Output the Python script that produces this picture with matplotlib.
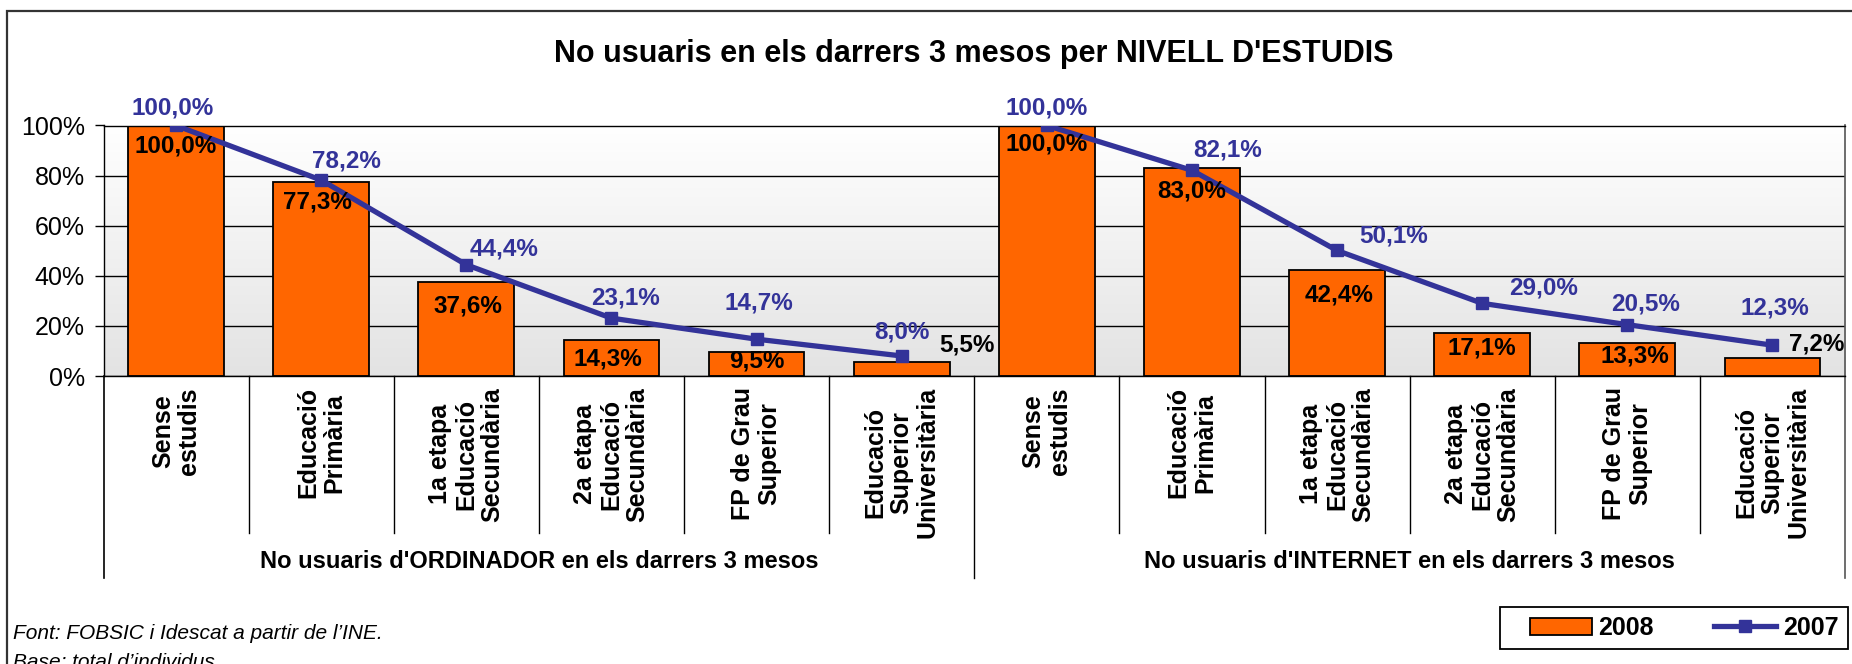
#!/usr/bin/env python3
"""No usuaris en els darrers 3 mesos per nivell d'estudis (2008 bars, 2007 line)."""

import matplotlib
matplotlib.use("Agg")
import matplotlib.pyplot as plt
import matplotlib.patches as mpatches
from matplotlib.lines import Line2D
from matplotlib.ticker import FuncFormatter
import numpy as np

plt.rcParams["font.family"] = ["Liberation Sans", "DejaVu Sans"]

# ── data ─────────────────────────────────────────────────────────────────────

CATEGORIES = [
    "Sense\nestudis",
    "Educació\nPrimària",
    "1a etapa\nEducació\nSecundària",
    "2a etapa\nEducació\nSecundària",
    "FP de Grau\nSuperior",
    "Educació\nSuperior\nUniversitària",
]
GROUPS = [
    "No usuaris d'ORDINADOR en els darrers 3 mesos",
    "No usuaris d'INTERNET en els darrers 3 mesos",
]
ORDINADOR_2008 = [100.0, 77.3, 37.6, 14.3, 9.5, 5.5]
ORDINADOR_2007 = [100.0, 78.2, 44.4, 23.1, 14.7, 8.0]
INTERNET_2008 = [100.0, 83.0, 42.4, 17.1, 13.3, 7.2]
INTERNET_2007 = [100.0, 82.1, 50.1, 29.0, 20.5, 12.3]
YTICKS = [0, 20, 40, 60, 80, 100]

TITLE = "No usuaris en els darrers 3 mesos per NIVELL D'ESTUDIS"
SOURCE = "Font: FOBSIC i Idescat a partir de l’INE."
BASE = "Base: total d’individus"

ORANGE = "#FF6600"
BLUE = "#333399"

# label nudges in pixels (dx, dy up), as placed in the original sheet
BAR_LABEL_OFFSETS = [(0, -20), (-4, -20), (2, -24), (-4, -19), (0, -9), (65, 17),
                     (0, -19), (0, -23), (2, -25), (0, -15), (8, -13), (44, 14)]
LINE_LABEL_OFFSETS = [(-3, 17), (25, 19), (38, 16), (14, 20), (2, 36), (0, 24),
                      (0, 18), (36, 20), (57, 14), (61, 15), (18, 21), (2, 37)]


def pct(v: float) -> str:
    return f"{v:.1f}%".replace(".", ",")


def main() -> None:
    W, H = 1852, 664
    fig = plt.figure(figsize=(W / 100, H / 100), dpi=100)

    left, right = 103.5 / W, 1845 / W
    top, bottom = 1 - 125.5 / H, 1 - 376 / H
    ax = fig.add_axes([left, bottom, right - left, top - bottom])

    vals_2008 = ORDINADOR_2008 + INTERNET_2008
    vals_2007 = ORDINADOR_2007 + INTERNET_2007
    n = len(vals_2008)
    x = np.arange(n)

    # ── background gradient ──────────────────────────────────────────────────
    grad = np.linspace(0.89, 1.0, 256).reshape(-1, 1, 1) * np.ones((1, 1, 3))
    ax.imshow(grad, extent=[-0.5, n - 0.5, 0, 100], aspect="auto",
              origin="lower", zorder=0, interpolation="bilinear")

    # ── bars + line ──────────────────────────────────────────────────────────
    ax.bar(x, vals_2008, width=0.66, color=ORANGE, edgecolor="black",
           linewidth=1.3, zorder=2)
    ax.plot(x[:6], vals_2007[:6], color=BLUE, lw=3.8, marker="s", ms=8.5,
            zorder=3, solid_capstyle="butt")
    ax.plot(x[6:], vals_2007[6:], color=BLUE, lw=3.8, marker="s", ms=8.5,
            zorder=3, solid_capstyle="butt")

    for i in range(n):
        dx, dy = BAR_LABEL_OFFSETS[i]
        ax.annotate(pct(vals_2008[i]), (x[i], vals_2008[i]), xytext=(dx, dy),
                    textcoords="offset pixels", ha="center", va="center",
                    fontsize=17.5, fontweight="bold", color="black",
                    zorder=5, annotation_clip=False)
        dx, dy = LINE_LABEL_OFFSETS[i]
        ax.annotate(pct(vals_2007[i]), (x[i], vals_2007[i]), xytext=(dx, dy),
                    textcoords="offset pixels", ha="center", va="center",
                    fontsize=17.5, fontweight="bold", color=BLUE,
                    zorder=5, annotation_clip=False)

    # ── axes styling ─────────────────────────────────────────────────────────
    ax.set_xlim(-0.5, n - 0.5)
    ax.set_ylim(0, 100)
    ax.set_yticks(YTICKS)
    ax.yaxis.set_major_formatter(FuncFormatter(lambda v, _: f"{v:.0f}%"))
    ax.tick_params(axis="y", length=6.5, width=1, pad=7, labelsize=18)
    ax.set_xticks([])
    ax.yaxis.grid(True, color="black", lw=1)
    ax.set_axisbelow(True)
    for side in ("left", "bottom", "top"):
        ax.spines[side].set_color("black")
        ax.spines[side].set_linewidth(1)
    ax.spines["right"].set_color("#555555")
    ax.spines["right"].set_linewidth(1.2)

    # category separators below the axis
    xtr = ax.get_xaxis_transform()
    px = 1 / (376 - 125.5)  # one pixel in axes-fraction units (vertical)
    for b in range(1, n):
        depth = 202 if b == 6 else 157
        ax.plot([b - 0.5, b - 0.5], [0, -depth * px], color="black", lw=1,
                transform=xtr, clip_on=False)
    for b in (-0.5, n - 0.5):
        ax.plot([b, b], [0, -202 * px], color="black" if b < 0 else "#555555",
                lw=1.2, transform=xtr, clip_on=False)

    # category labels (rotated, anchored just below the axis)
    for i in range(n):
        ax.annotate(CATEGORIES[i % 6], (x[i], 0), xycoords=("data", "axes fraction"),
                    xytext=(0, -11), textcoords="offset pixels", rotation=90,
                    ha="center", va="top", multialignment="center",
                    fontsize=18, fontweight="bold", linespacing=1.12,
                    annotation_clip=False)

    # group labels
    for g, name in enumerate(GROUPS):
        ax.annotate(name, (2.5 + 6 * g, 0), xycoords=("data", "axes fraction"),
                    xytext=(0, -192), textcoords="offset pixels",
                    ha="center", va="baseline", fontsize=17, fontweight="bold",
                    annotation_clip=False)

    # ── title, notes, legend, frame ─────────────────────────────────────────
    fig.text((left + right) / 2, 1 - 62 / H, TITLE, ha="center", va="baseline",
             fontsize=22, fontweight="bold")
    fig.text(13 / W, 1 - 639 / H, SOURCE, ha="left", va="baseline",
             fontsize=15, style="italic")
    fig.text(13 / W, 1 - 668 / H, BASE, ha="left", va="baseline",
             fontsize=15, style="italic")

    handles = [
        mpatches.Patch(facecolor=ORANGE, edgecolor="black", linewidth=1.3, label="2008"),
        Line2D([0], [0], color=BLUE, lw=3.8, marker="s", ms=8.5, label="2007"),
    ]
    fig.legend(handles=handles, loc="center",
               bbox_to_anchor=(1684 / W, 1 - 628 / H), ncol=2,
               prop={"weight": "bold", "size": 18}, frameon=False,
               handlelength=2.5, handletextpad=0.25, columnspacing=2.4)
    fig.add_artist(mpatches.Rectangle((1500 / W, 1 - 649 / H), 348 / W, 42 / H,
                                      transform=fig.transFigure, fill=False,
                                      edgecolor="black", lw=1.3))

    fig.add_artist(mpatches.Rectangle((7 / W, -0.2), 1.0, 1.2 - 11 / H,
                                      transform=fig.transFigure, fill=False,
                                      edgecolor="#333333", lw=1.6))

    fig.savefig("out.png", dpi=100, facecolor="white")


if __name__ == "__main__":
    main()
